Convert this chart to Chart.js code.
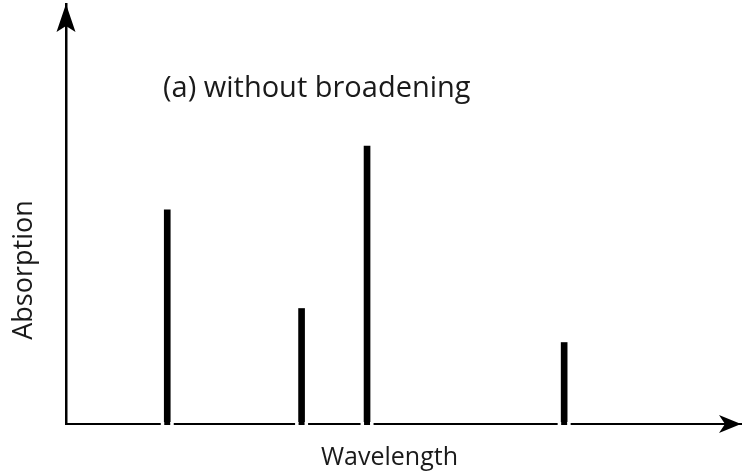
<!DOCTYPE html>
<html>
<head>
<meta charset="utf-8">
<script src="https://cdn.jsdelivr.net/npm/chart.js@4/dist/chart.umd.min.js"></script>
<style>
  html, body { margin: 0; padding: 0; background: #fff; }
  #wrap { width: 743px; height: 475px; position: relative; }
</style>
</head>
<body>
<div id="wrap"><canvas id="c" width="743" height="475"></canvas></div>
<script>
// Data (arbitrary units)
const wavelengths = [15.0, 34.9, 44.6, 73.8];
const absorption = [51, 27.5, 66.2, 19.4];
const panelLabel = '(a) without broadening';
const xTitle = 'Wavelength';
const yTitle = 'Absorption';

const FONT = '"Open Sans", "Noto Sans", sans-serif';

const points = wavelengths.map((x, i) => ({ x: x, y: absorption[i] }));

const decorPlugin = {
  id: 'decor',
  afterDatasetsDraw(chart) {
    const ctx = chart.ctx;
    const ca = chart.chartArea;
    const xs = chart.scales.x;
    const ys = chart.scales.y;
    const axisY = ys.getPixelForValue(0);
    const axisX = xs.getPixelForValue(0);
    ctx.save();
    // small gaps in the x axis on both sides of each line
    const meta = chart.getDatasetMeta(0);
    ctx.fillStyle = '#fff';
    meta.data.forEach(el => {
      const half = el.width / 2;
      ctx.fillRect(el.x - half - 3.5, axisY - 2, 3.5, 4);
      ctx.fillRect(el.x + half, axisY - 2, 3.5, 4);
    });
    // arrow heads
    ctx.fillStyle = '#000';
    const tipY = ca.top;
    ctx.beginPath();
    ctx.moveTo(axisX, tipY);
    ctx.lineTo(axisX + 9.5, tipY + 28);
    ctx.lineTo(axisX, tipY + 22);
    ctx.lineTo(axisX - 9.5, tipY + 28);
    ctx.closePath();
    ctx.fill();
    const tipX = ca.right;
    ctx.beginPath();
    ctx.moveTo(tipX, axisY);
    ctx.lineTo(tipX - 22, axisY - 9);
    ctx.lineTo(tipX - 16, axisY);
    ctx.lineTo(tipX - 22, axisY + 9);
    ctx.closePath();
    ctx.fill();
    // texts
    ctx.fillStyle = '#1a1a1a';
    ctx.textBaseline = 'alphabetic';
    ctx.textAlign = 'left';
    ctx.font = '29px ' + FONT;
    ctx.fillText(panelLabel, 163, 97);
    ctx.textAlign = 'center';
    ctx.font = '25px ' + FONT;
    ctx.fillText(xTitle, 389.5, 465);
    ctx.save();
    ctx.translate(32, 270);
    ctx.rotate(-Math.PI / 2);
    ctx.font = '27px ' + FONT;
    ctx.fillText(yTitle, 0, 0);
    ctx.restore();
    ctx.restore();
  }
};

new Chart(document.getElementById('c'), {
  type: 'bar',
  data: {
    datasets: [{
      data: points,
      backgroundColor: '#000',
      borderWidth: 0,
      barThickness: 6
    }]
  },
  options: {
    responsive: false,
    animation: false,
    layout: { padding: { top: 4, right: 2, left: 0, bottom: 0 } },
    plugins: { legend: { display: false }, tooltip: { enabled: false } },
    scales: {
      x: {
        type: 'linear',
        min: 0,
        max: 100,
        offset: false,
        grid: { display: false, drawTicks: false },
        ticks: { display: false },
        border: { display: true, color: '#000', width: 2 },
        title: { display: false, text: xTitle },
        afterFit(scale) { scale.height = 51; }
      },
      y: {
        min: 0,
        max: 100,
        grid: { display: false, drawTicks: false },
        ticks: { display: false },
        border: { display: true, color: '#000', width: 2.5 },
        title: { display: false, text: yTitle },
        afterFit(scale) { scale.width = 66; }
      }
    }
  },
  plugins: [decorPlugin]
});
</script>
</body>
</html>
